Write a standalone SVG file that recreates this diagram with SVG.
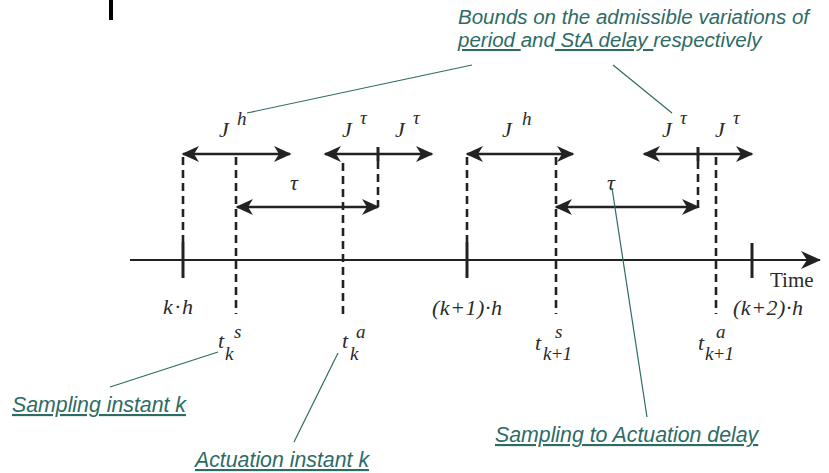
<svg xmlns="http://www.w3.org/2000/svg" width="829" height="473" viewBox="0 0 829 473">
  <style>
    .bg { fill: #ffffff; }
    .axis { stroke: #222; stroke-width: 2.2; fill: none; }
    .arr { stroke: #222; stroke-width: 2.6; fill: none; marker-start: url(#ah); marker-end: url(#ah); }
    .tick { stroke: #222; stroke-width: 3; fill: none; }
    .dash { stroke: #222; stroke-width: 2.6; stroke-dasharray: 8 5; fill: none; }
    .lead { stroke: #2d6b66; stroke-width: 1.2; fill: none; }
    .math { font-family: "Liberation Serif", "Times New Roman", serif; font-style: italic; fill: #2a2a2a; }
    .big { font-size: 22px; }
    .sm { font-size: 19px; }
    .upright { font-family: "Liberation Serif", "Times New Roman", serif; font-size: 21px; fill: #2a2a2a; }
    .note { font-family: "Liberation Sans", Arial, sans-serif; font-style: italic; font-size: 21.3px; fill: #2d6b66; }
    .head { font-size: 20.5px; }
    .ul { text-decoration: underline; }
  </style>
  <defs>
    <marker id="ah" markerUnits="userSpaceOnUse" markerWidth="22" markerHeight="22" viewBox="-19 -11 22 22" refX="0" refY="0" orient="auto-start-reverse">
      <path d="M1.5,0 L-16,-8 L-11,0 L-16,8 Z" fill="#222"/>
    </marker>
    <marker id="axh" markerUnits="userSpaceOnUse" markerWidth="24" markerHeight="24" viewBox="-21 -12 24 24" refX="0" refY="0" orient="auto">
      <path d="M1,0 L-19,-9 L-13,0 L-19,9 Z" fill="#222"/>
    </marker>
  </defs>

  <rect class="bg" x="0" y="0" width="829" height="473"/>
  <rect x="109" y="0" width="4" height="20" fill="#000"/>

  <!-- time axis with period ticks -->
  <g id="axis">
    <path class="axis" d="M130,260 H820" marker-end="url(#axh)"/>
    <path class="tick" d="M183,242 V278 M467,242 V278 M752,243 V278"/>
    <text class="upright" x="770" y="287">Time</text>
    <text class="math big" x="163" y="314" textLength="30" lengthAdjust="spacing">k·h</text>
    <text class="math big" x="432" y="315" textLength="70" lengthAdjust="spacing">(k+1)·h</text>
    <text class="math big" x="733" y="315" textLength="70" lengthAdjust="spacing">(k+2)·h</text>
  </g>

  <!-- instants: dashed markers -->
  <g id="instants">
    <path class="dash" d="M183,157 V242 M236,157 V314 M343,163 V314 M378,161 V207 M467,157 V242 M556,157 V314 M698,161 V208 M716,157 V314"/>
    <path class="tick" d="M378,147 V161 M698,147 V161"/>
  </g>

  <!-- instant labels -->
  <g id="t-k-s">
    <text class="math big" x="218" y="348">t</text>
    <text class="math sm" x="225" y="360">k</text>
    <text class="math sm" x="234" y="338">s</text>
  </g>
  <g id="t-k-a">
    <text class="math big" x="342" y="348">t</text>
    <text class="math sm" x="350" y="360">k</text>
    <text class="math sm" x="356" y="338">a</text>
  </g>
  <g id="t-k1-s">
    <text class="math big" x="535" y="350">t</text>
    <text class="math sm" x="543" y="360" textLength="29" lengthAdjust="spacing">k+1</text>
    <text class="math sm" x="555" y="338">s</text>
  </g>
  <g id="t-k1-a">
    <text class="math big" x="698" y="350">t</text>
    <text class="math sm" x="705" y="360" textLength="29" lengthAdjust="spacing">k+1</text>
    <text class="math sm" x="716" y="338">a</text>
  </g>

  <!-- jitter and delay intervals -->
  <g id="intervals">
    <path class="arr" d="M183,154 H290"/>
    <path class="arr" d="M325,154 H432"/>
    <path class="arr" d="M467,154 H573"/>
    <path class="arr" d="M644,154 H752"/>
    <path class="arr" d="M237,207 H378"/>
    <path class="arr" d="M556,207 H698"/>
  </g>

  <g id="interval-labels">
    <text class="math big" x="219" y="137">J</text><text class="math sm" x="237" y="125">h</text>
    <text class="math big" x="342" y="137">J</text><text class="math sm" x="360" y="124">τ</text>
    <text class="math big" x="395" y="137">J</text><text class="math sm" x="413" y="124">τ</text>
    <text class="math big" x="290" y="190">τ</text>
    <text class="math big" x="502" y="137">J</text><text class="math sm" x="522" y="125">h</text>
    <text class="math big" x="662" y="137">J</text><text class="math sm" x="680" y="124">τ</text>
    <text class="math big" x="715" y="137">J</text><text class="math sm" x="733" y="124">τ</text>
    <text class="math big" x="607" y="190">τ</text>
  </g>

  <!-- annotation leaders -->
  <g id="leaders">
    <path class="lead" d="M472,65 L247,113"/>
    <path class="lead" d="M613,65 L672,113"/>
    <path class="lead" d="M110,387 L218,352"/>
    <path class="lead" d="M294,442 L338,353"/>
    <path class="lead" d="M612,188 L647,417"/>
  </g>

  <!-- annotations -->
  <g id="note-bounds">
    <text class="note head" x="458" y="24">Bounds on the admissible variations of</text>
    <text class="note head" x="458" y="47"><tspan class="ul">period </tspan>and<tspan class="ul"> StA delay </tspan>respectively</text>
  </g>
  <g id="note-sampling">
    <text class="note ul" x="12" y="412">Sampling instant k</text>
  </g>
  <g id="note-actuation">
    <text class="note ul" x="195" y="467">Actuation instant k</text>
  </g>
  <g id="note-delay">
    <text class="note ul" x="495" y="442">Sampling to Actuation delay</text>
  </g>
</svg>
